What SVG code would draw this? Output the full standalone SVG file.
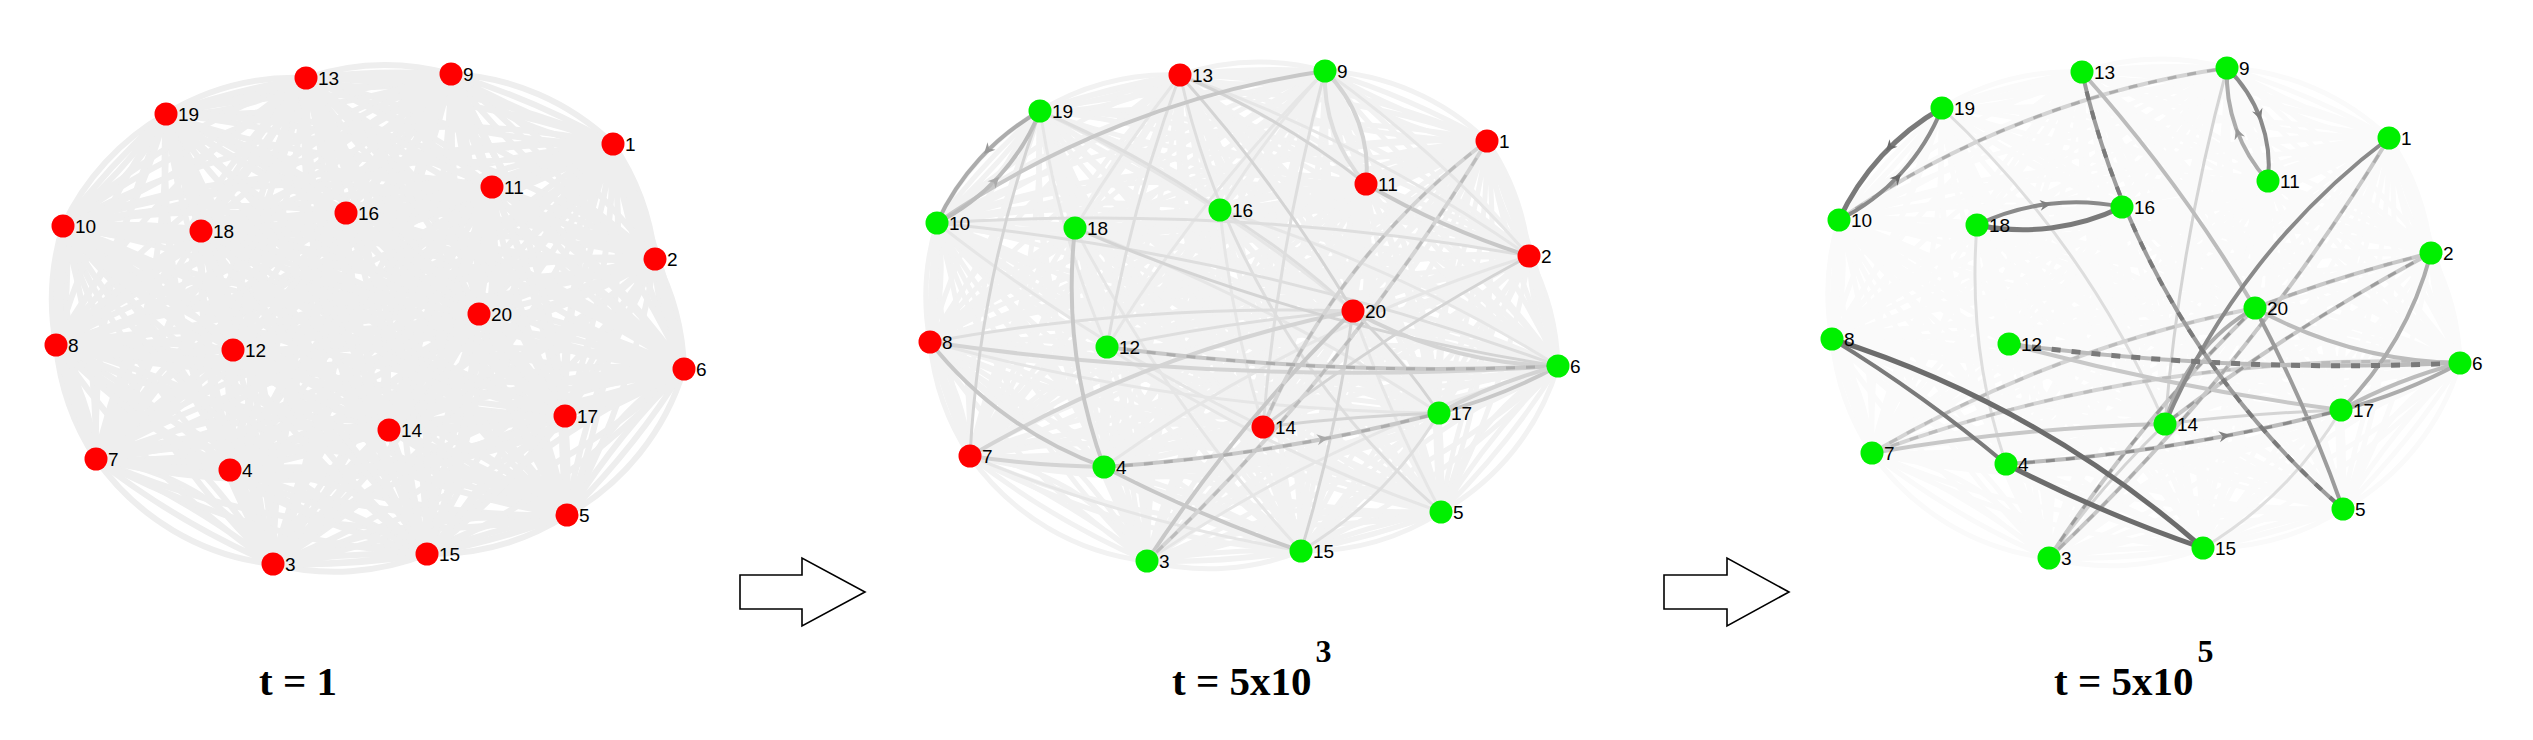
<svg xmlns="http://www.w3.org/2000/svg" xmlns:xlink="http://www.w3.org/1999/xlink" width="2533" height="740" viewBox="0 0 2533 740">
<style>
.mesh1{fill:none;stroke:#eeeeee;stroke-width:6;stroke-linejoin:round}
.mesh2{fill:none;stroke:#f2f2f2;stroke-width:5;stroke-linejoin:round}
.mesh3{fill:none;stroke:#fafafa;stroke-width:5;stroke-linejoin:round}
.e{fill:none;stroke-width:4;stroke-linecap:butt}
.t{stroke-width:3}
.k{stroke-width:5}
.g6{stroke:#6c6c6c}.g7{stroke:#7a7a7a}.g8{stroke:#8a8a8a}.g9{stroke:#9c9c9c}.ga{stroke:#acacac}.gb{stroke:#bcbcbc}.gc{stroke:#c8c8c8}.gd{stroke:#d4d4d4}.ge{stroke:#dedede}.gf{stroke:#e6e6e6}
.dsh{stroke-dasharray:9 11}
.f6{fill:#6a6a6a}.f8{fill:#808080}.f9{fill:#999999}.fa{fill:#aaaaaa}
.node circle{stroke:none}
.red circle{fill:#ff0000}
.grn circle{fill:#00f000}
.node text{font-family:"Liberation Sans",Arial,sans-serif;font-size:19px;fill:#000}
.title{font-family:"Liberation Serif","Times New Roman",serif;font-weight:bold;font-size:41px;fill:#000}
.blk{fill:#ffffff;stroke:#000;stroke-width:1.6}
</style>
<defs>
<path id="ah" d="M0 0L-11 -5.5L-7.5 0L-11 5.5Z"/>
<g id="mesh">
<path d="M306 78A250 250 0 0 1 451 74A250 250 0 0 1 306 78M451 74A250 250 0 0 1 613 144A250 250 0 0 1 451 74M613 144A250 250 0 0 1 655 259A250 250 0 0 1 613 144M655 259A250 250 0 0 1 684 369A250 250 0 0 1 655 259M684 369A250 250 0 0 1 567 515A250 250 0 0 1 684 369M567 515A250 250 0 0 1 427 554A250 250 0 0 1 567 515M427 554A250 250 0 0 1 273 564A250 250 0 0 1 427 554M273 564A250 250 0 0 1 96 459A250 250 0 0 1 273 564M96 459A250 250 0 0 1 56 345A250 250 0 0 1 96 459M56 345A250 250 0 0 1 63 226A250 250 0 0 1 56 345M63 226A250 250 0 0 1 166 114A250 250 0 0 1 63 226M166 114A250 250 0 0 1 306 78A250 250 0 0 1 166 114"/>
<path d="M613 144A800 800 0 0 1 655 259A800 800 0 0 1 613 144A800 800 0 0 1 273 564A800 800 0 0 1 613 144A800 800 0 0 1 230 470A800 800 0 0 1 613 144A800 800 0 0 1 567 515A800 800 0 0 1 613 144A800 800 0 0 1 684 369A800 800 0 0 1 613 144A800 800 0 0 1 96 459A800 800 0 0 1 613 144A800 800 0 0 1 56 345A800 800 0 0 1 613 144A800 800 0 0 1 451 74A800 800 0 0 1 613 144A800 800 0 0 1 63 226A800 800 0 0 1 613 144A800 800 0 0 1 492 187A800 800 0 0 1 613 144A800 800 0 0 1 233 350A800 800 0 0 1 613 144A800 800 0 0 1 306 78A800 800 0 0 1 613 144A800 800 0 0 1 389 430A800 800 0 0 1 613 144A800 800 0 0 1 427 554A800 800 0 0 1 613 144A800 800 0 0 1 346 213A800 800 0 0 1 613 144A800 800 0 0 1 565 416A800 800 0 0 1 613 144A800 800 0 0 1 201 231A800 800 0 0 1 613 144A800 800 0 0 1 166 114A800 800 0 0 1 613 144A800 800 0 0 1 479 314A800 800 0 0 1 613 144"/>
<path d="M655 259A800 800 0 0 1 273 564A800 800 0 0 1 655 259A800 800 0 0 1 230 470A800 800 0 0 1 655 259A800 800 0 0 1 567 515A800 800 0 0 1 655 259A800 800 0 0 1 684 369A800 800 0 0 1 655 259A800 800 0 0 1 96 459A800 800 0 0 1 655 259A800 800 0 0 1 56 345A800 800 0 0 1 655 259A800 800 0 0 1 451 74A800 800 0 0 1 655 259A800 800 0 0 1 63 226A800 800 0 0 1 655 259A800 800 0 0 1 492 187A800 800 0 0 1 655 259A800 800 0 0 1 233 350A800 800 0 0 1 655 259A800 800 0 0 1 306 78A800 800 0 0 1 655 259A800 800 0 0 1 389 430A800 800 0 0 1 655 259A800 800 0 0 1 427 554A800 800 0 0 1 655 259A800 800 0 0 1 346 213A800 800 0 0 1 655 259A800 800 0 0 1 565 416A800 800 0 0 1 655 259A800 800 0 0 1 201 231A800 800 0 0 1 655 259A800 800 0 0 1 166 114A800 800 0 0 1 655 259A800 800 0 0 1 479 314A800 800 0 0 1 655 259"/>
<path d="M273 564A800 800 0 0 1 230 470A800 800 0 0 1 273 564A800 800 0 0 1 567 515A800 800 0 0 1 273 564A800 800 0 0 1 684 369A800 800 0 0 1 273 564A800 800 0 0 1 96 459A800 800 0 0 1 273 564A800 800 0 0 1 56 345A800 800 0 0 1 273 564A800 800 0 0 1 451 74A800 800 0 0 1 273 564A800 800 0 0 1 63 226A800 800 0 0 1 273 564A800 800 0 0 1 492 187A800 800 0 0 1 273 564A800 800 0 0 1 233 350A800 800 0 0 1 273 564A800 800 0 0 1 306 78A800 800 0 0 1 273 564A800 800 0 0 1 389 430A800 800 0 0 1 273 564A800 800 0 0 1 427 554A800 800 0 0 1 273 564A800 800 0 0 1 346 213A800 800 0 0 1 273 564A800 800 0 0 1 565 416A800 800 0 0 1 273 564A800 800 0 0 1 201 231A800 800 0 0 1 273 564A800 800 0 0 1 166 114A800 800 0 0 1 273 564A800 800 0 0 1 479 314A800 800 0 0 1 273 564"/>
<path d="M230 470A800 800 0 0 1 567 515A800 800 0 0 1 230 470A800 800 0 0 1 684 369A800 800 0 0 1 230 470A800 800 0 0 1 96 459A800 800 0 0 1 230 470A800 800 0 0 1 56 345A800 800 0 0 1 230 470A800 800 0 0 1 451 74A800 800 0 0 1 230 470A800 800 0 0 1 63 226A800 800 0 0 1 230 470A800 800 0 0 1 492 187A800 800 0 0 1 230 470A800 800 0 0 1 233 350A800 800 0 0 1 230 470A800 800 0 0 1 306 78A800 800 0 0 1 230 470A800 800 0 0 1 389 430A800 800 0 0 1 230 470A800 800 0 0 1 427 554A800 800 0 0 1 230 470A800 800 0 0 1 346 213A800 800 0 0 1 230 470A800 800 0 0 1 565 416A800 800 0 0 1 230 470A800 800 0 0 1 201 231A800 800 0 0 1 230 470A800 800 0 0 1 166 114A800 800 0 0 1 230 470A800 800 0 0 1 479 314A800 800 0 0 1 230 470"/>
<path d="M567 515A800 800 0 0 1 684 369A800 800 0 0 1 567 515A800 800 0 0 1 96 459A800 800 0 0 1 567 515A800 800 0 0 1 56 345A800 800 0 0 1 567 515A800 800 0 0 1 451 74A800 800 0 0 1 567 515A800 800 0 0 1 63 226A800 800 0 0 1 567 515A800 800 0 0 1 492 187A800 800 0 0 1 567 515A800 800 0 0 1 233 350A800 800 0 0 1 567 515A800 800 0 0 1 306 78A800 800 0 0 1 567 515A800 800 0 0 1 389 430A800 800 0 0 1 567 515A800 800 0 0 1 427 554A800 800 0 0 1 567 515A800 800 0 0 1 346 213A800 800 0 0 1 567 515A800 800 0 0 1 565 416A800 800 0 0 1 567 515A800 800 0 0 1 201 231A800 800 0 0 1 567 515A800 800 0 0 1 166 114A800 800 0 0 1 567 515A800 800 0 0 1 479 314A800 800 0 0 1 567 515"/>
<path d="M684 369A800 800 0 0 1 96 459A800 800 0 0 1 684 369A800 800 0 0 1 56 345A800 800 0 0 1 684 369A800 800 0 0 1 451 74A800 800 0 0 1 684 369A800 800 0 0 1 63 226A800 800 0 0 1 684 369A800 800 0 0 1 492 187A800 800 0 0 1 684 369A800 800 0 0 1 233 350A800 800 0 0 1 684 369A800 800 0 0 1 306 78A800 800 0 0 1 684 369A800 800 0 0 1 389 430A800 800 0 0 1 684 369A800 800 0 0 1 427 554A800 800 0 0 1 684 369A800 800 0 0 1 346 213A800 800 0 0 1 684 369A800 800 0 0 1 565 416A800 800 0 0 1 684 369A800 800 0 0 1 201 231A800 800 0 0 1 684 369A800 800 0 0 1 166 114A800 800 0 0 1 684 369A800 800 0 0 1 479 314A800 800 0 0 1 684 369"/>
<path d="M96 459A800 800 0 0 1 56 345A800 800 0 0 1 96 459A800 800 0 0 1 451 74A800 800 0 0 1 96 459A800 800 0 0 1 63 226A800 800 0 0 1 96 459A800 800 0 0 1 492 187A800 800 0 0 1 96 459A800 800 0 0 1 233 350A800 800 0 0 1 96 459A800 800 0 0 1 306 78A800 800 0 0 1 96 459A800 800 0 0 1 389 430A800 800 0 0 1 96 459A800 800 0 0 1 427 554A800 800 0 0 1 96 459A800 800 0 0 1 346 213A800 800 0 0 1 96 459A800 800 0 0 1 565 416A800 800 0 0 1 96 459A800 800 0 0 1 201 231A800 800 0 0 1 96 459A800 800 0 0 1 166 114A800 800 0 0 1 96 459A800 800 0 0 1 479 314A800 800 0 0 1 96 459"/>
<path d="M56 345A800 800 0 0 1 451 74A800 800 0 0 1 56 345A800 800 0 0 1 63 226A800 800 0 0 1 56 345A800 800 0 0 1 492 187A800 800 0 0 1 56 345A800 800 0 0 1 233 350A800 800 0 0 1 56 345A800 800 0 0 1 306 78A800 800 0 0 1 56 345A800 800 0 0 1 389 430A800 800 0 0 1 56 345A800 800 0 0 1 427 554A800 800 0 0 1 56 345A800 800 0 0 1 346 213A800 800 0 0 1 56 345A800 800 0 0 1 565 416A800 800 0 0 1 56 345A800 800 0 0 1 201 231A800 800 0 0 1 56 345A800 800 0 0 1 166 114A800 800 0 0 1 56 345A800 800 0 0 1 479 314A800 800 0 0 1 56 345"/>
<path d="M451 74A800 800 0 0 1 63 226A800 800 0 0 1 451 74A800 800 0 0 1 492 187A800 800 0 0 1 451 74A800 800 0 0 1 233 350A800 800 0 0 1 451 74A800 800 0 0 1 306 78A800 800 0 0 1 451 74A800 800 0 0 1 389 430A800 800 0 0 1 451 74A800 800 0 0 1 427 554A800 800 0 0 1 451 74A800 800 0 0 1 346 213A800 800 0 0 1 451 74A800 800 0 0 1 565 416A800 800 0 0 1 451 74A800 800 0 0 1 201 231A800 800 0 0 1 451 74A800 800 0 0 1 166 114A800 800 0 0 1 451 74A800 800 0 0 1 479 314A800 800 0 0 1 451 74"/>
<path d="M63 226A800 800 0 0 1 492 187A800 800 0 0 1 63 226A800 800 0 0 1 233 350A800 800 0 0 1 63 226A800 800 0 0 1 306 78A800 800 0 0 1 63 226A800 800 0 0 1 389 430A800 800 0 0 1 63 226A800 800 0 0 1 427 554A800 800 0 0 1 63 226A800 800 0 0 1 346 213A800 800 0 0 1 63 226A800 800 0 0 1 565 416A800 800 0 0 1 63 226A800 800 0 0 1 201 231A800 800 0 0 1 63 226A800 800 0 0 1 166 114A800 800 0 0 1 63 226A800 800 0 0 1 479 314A800 800 0 0 1 63 226"/>
<path d="M492 187A800 800 0 0 1 233 350A800 800 0 0 1 492 187A800 800 0 0 1 306 78A800 800 0 0 1 492 187A800 800 0 0 1 389 430A800 800 0 0 1 492 187A800 800 0 0 1 427 554A800 800 0 0 1 492 187A800 800 0 0 1 346 213A800 800 0 0 1 492 187A800 800 0 0 1 565 416A800 800 0 0 1 492 187A800 800 0 0 1 201 231A800 800 0 0 1 492 187A800 800 0 0 1 166 114A800 800 0 0 1 492 187A800 800 0 0 1 479 314A800 800 0 0 1 492 187"/>
<path d="M233 350A800 800 0 0 1 306 78A800 800 0 0 1 233 350A800 800 0 0 1 389 430A800 800 0 0 1 233 350A800 800 0 0 1 427 554A800 800 0 0 1 233 350A800 800 0 0 1 346 213A800 800 0 0 1 233 350A800 800 0 0 1 565 416A800 800 0 0 1 233 350A800 800 0 0 1 201 231A800 800 0 0 1 233 350A800 800 0 0 1 166 114A800 800 0 0 1 233 350A800 800 0 0 1 479 314A800 800 0 0 1 233 350"/>
<path d="M306 78A800 800 0 0 1 389 430A800 800 0 0 1 306 78A800 800 0 0 1 427 554A800 800 0 0 1 306 78A800 800 0 0 1 346 213A800 800 0 0 1 306 78A800 800 0 0 1 565 416A800 800 0 0 1 306 78A800 800 0 0 1 201 231A800 800 0 0 1 306 78A800 800 0 0 1 166 114A800 800 0 0 1 306 78A800 800 0 0 1 479 314A800 800 0 0 1 306 78"/>
<path d="M389 430A800 800 0 0 1 427 554A800 800 0 0 1 389 430A800 800 0 0 1 346 213A800 800 0 0 1 389 430A800 800 0 0 1 565 416A800 800 0 0 1 389 430A800 800 0 0 1 201 231A800 800 0 0 1 389 430A800 800 0 0 1 166 114A800 800 0 0 1 389 430A800 800 0 0 1 479 314A800 800 0 0 1 389 430"/>
<path d="M427 554A800 800 0 0 1 346 213A800 800 0 0 1 427 554A800 800 0 0 1 565 416A800 800 0 0 1 427 554A800 800 0 0 1 201 231A800 800 0 0 1 427 554A800 800 0 0 1 166 114A800 800 0 0 1 427 554A800 800 0 0 1 479 314A800 800 0 0 1 427 554"/>
<path d="M346 213A800 800 0 0 1 565 416A800 800 0 0 1 346 213A800 800 0 0 1 201 231A800 800 0 0 1 346 213A800 800 0 0 1 166 114A800 800 0 0 1 346 213A800 800 0 0 1 479 314A800 800 0 0 1 346 213"/>
<path d="M565 416A800 800 0 0 1 201 231A800 800 0 0 1 565 416A800 800 0 0 1 166 114A800 800 0 0 1 565 416A800 800 0 0 1 479 314A800 800 0 0 1 565 416"/>
<path d="M201 231A800 800 0 0 1 166 114A800 800 0 0 1 201 231A800 800 0 0 1 479 314A800 800 0 0 1 201 231"/>
<path d="M166 114A800 800 0 0 1 479 314A800 800 0 0 1 166 114"/>
</g>
</defs>
<rect width="2533" height="740" fill="#ffffff"/>

<!-- Panel 1: t = 1 -->
<g id="panel1">
<g id="p1-connectors"><use xlink:href="#mesh" href="#mesh" class="mesh1"/></g>
<g id="p1-nodes">
<g id="p1-n1" class="node red"><circle cx="613" cy="144" r="11.5"/><text x="625" y="151">1</text></g>
<g id="p1-n2" class="node red"><circle cx="655" cy="259" r="11.5"/><text x="667" y="266">2</text></g>
<g id="p1-n3" class="node red"><circle cx="273" cy="564" r="11.5"/><text x="285" y="571">3</text></g>
<g id="p1-n4" class="node red"><circle cx="230" cy="470" r="11.5"/><text x="242" y="477">4</text></g>
<g id="p1-n5" class="node red"><circle cx="567" cy="515" r="11.5"/><text x="579" y="522">5</text></g>
<g id="p1-n6" class="node red"><circle cx="684" cy="369" r="11.5"/><text x="696" y="376">6</text></g>
<g id="p1-n7" class="node red"><circle cx="96" cy="459" r="11.5"/><text x="108" y="466">7</text></g>
<g id="p1-n8" class="node red"><circle cx="56" cy="345" r="11.5"/><text x="68" y="352">8</text></g>
<g id="p1-n9" class="node red"><circle cx="451" cy="74" r="11.5"/><text x="463" y="81">9</text></g>
<g id="p1-n10" class="node red"><circle cx="63" cy="226" r="11.5"/><text x="75" y="233">10</text></g>
<g id="p1-n11" class="node red"><circle cx="492" cy="187" r="11.5"/><text x="504" y="194">11</text></g>
<g id="p1-n12" class="node red"><circle cx="233" cy="350" r="11.5"/><text x="245" y="357">12</text></g>
<g id="p1-n13" class="node red"><circle cx="306" cy="78" r="11.5"/><text x="318" y="85">13</text></g>
<g id="p1-n14" class="node red"><circle cx="389" cy="430" r="11.5"/><text x="401" y="437">14</text></g>
<g id="p1-n15" class="node red"><circle cx="427" cy="554" r="11.5"/><text x="439" y="561">15</text></g>
<g id="p1-n16" class="node red"><circle cx="346" cy="213" r="11.5"/><text x="358" y="220">16</text></g>
<g id="p1-n17" class="node red"><circle cx="565" cy="416" r="11.5"/><text x="577" y="423">17</text></g>
<g id="p1-n18" class="node red"><circle cx="201" cy="231" r="11.5"/><text x="213" y="238">18</text></g>
<g id="p1-n19" class="node red"><circle cx="166" cy="114" r="11.5"/><text x="178" y="121">19</text></g>
<g id="p1-n20" class="node red"><circle cx="479" cy="314" r="11.5"/><text x="491" y="321">20</text></g>
</g>
</g>

<!-- Panel 2: t = 5x10^3 -->
<g id="panel2" transform="translate(874,-3)">
<g id="p2-connectors">
<use xlink:href="#mesh" href="#mesh" class="mesh2"/>
<path class="e t gf" d="M166 114A1000 1000 0 0 0 233 350"/>
<path class="e t gf" d="M166 114A1500 1500 0 0 1 479 314"/>
<path class="e t gf" d="M306 78A1500 1500 0 0 0 201 231"/>
<path class="e t gf" d="M306 78A1500 1500 0 0 1 655 259"/>
<path class="e t gf" d="M451 74A900 900 0 0 0 346 213"/>
<path class="e t gf" d="M451 74A1200 1200 0 0 1 655 259"/>
<path class="e t gf" d="M451 74A1500 1500 0 0 0 233 350"/>
<path class="e t gf" d="M201 231A1500 1500 0 0 0 427 554"/>
<path class="e t gf" d="M201 231A1800 1800 0 0 1 565 416"/>
<path class="e t gf" d="M346 213A1200 1200 0 0 0 389 430"/>
<path class="e t gf" d="M346 213A1500 1500 0 0 1 684 369"/>
<path class="e t gf" d="M233 350A1500 1500 0 0 0 567 515"/>
<path class="e t gf" d="M63 226A1800 1800 0 0 0 389 430"/>
<path class="e t gf" d="M56 345A2000 2000 0 0 0 565 416"/>
<path class="e t gf" d="M96 459A1500 1500 0 0 0 427 554"/>
<path class="e t gf" d="M273 564A1500 1500 0 0 1 684 369"/>
<path class="e t gf" d="M230 470A1500 1500 0 0 1 655 259"/>
<path class="e t gf" d="M567 515A1500 1500 0 0 1 479 314"/>
<path class="e t ge" d="M166 114A1000 1000 0 0 1 346 213"/>
<path class="e t ge" d="M306 78A1500 1500 0 0 0 233 350"/>
<path class="e t ge" d="M63 226A2500 2500 0 0 1 684 369"/>
<path class="e t ge" d="M63 226A2500 2500 0 0 1 655 259"/>
<path class="e t ge" d="M56 345A2000 2000 0 0 1 479 314"/>
<path class="e t ge" d="M233 350A2000 2000 0 0 1 479 314"/>
<path class="e t ge" d="M451 74A2000 2000 0 0 0 389 430"/>
<path class="e t ge" d="M427 554A400 400 0 0 0 565 416"/>
<path class="e t ge" d="M346 213A800 800 0 0 1 479 314"/>
<path class="e t ge" d="M306 78A815 815 0 0 0 567 515"/>
<path class="e t gd" d="M306 78A1500 1500 0 0 1 479 314"/>
<path class="e t gd" d="M306 78A800 800 0 0 1 492 187"/>
<path class="e t gd" d="M166 114A1200 1200 0 0 0 96 459"/>
<path class="e t gd" d="M201 231A2000 2000 0 0 0 684 369"/>
<path class="e t gd" d="M479 314A1500 1500 0 0 1 427 554"/>
<path class="e t gd" d="M479 314A600 600 0 0 1 565 416"/>
<path class="e t gd" d="M389 430A2000 2000 0 0 1 565 416"/>
<path class="e t gd" d="M655 259A2000 2000 0 0 0 389 430"/>
<path class="e gd" d="M96 459A1000 1000 0 0 0 230 470"/>
<path class="e gd" d="M96 459A1241 1241 0 0 1 479 314"/>
<path class="e gd" d="M56 345A3000 3000 0 0 0 684 369"/>
<path class="e gd" d="M451 74A136 136 0 0 1 492 187"/>
<path class="e ge" d="M492 187A156 156 0 0 1 451 74"/>
<path class="e gd" d="M479 314A439 439 0 0 0 684 369"/>
<path class="e gc" d="M492 187A800 800 0 0 0 655 259"/>
<path class="e gc" d="M63 226A916 916 0 0 1 451 74"/>
<path class="e gc" d="M201 231A525 525 0 0 0 230 470"/>
<path class="e gc" d="M56 345A389 389 0 0 0 230 470"/>
<path class="e gc" d="M230 470A1433 1433 0 0 0 427 554"/>
<path class="e gc" d="M273 564A1500 1500 0 0 1 479 314"/>
<path class="e gd" d="M613 144A2000 2000 0 0 1 273 564"/>
<path class="e t gb dsh" d="M613 144A2000 2000 0 0 1 273 564"/>
<path class="e gd" d="M613 144A700 700 0 0 0 389 430"/>
<path class="e t gb dsh" d="M613 144A700 700 0 0 0 389 430"/>
<path class="e gc" d="M233 350A2500 2500 0 0 0 684 369"/>
<path class="e t ga dsh" d="M233 350A2500 2500 0 0 0 684 369"/>
<path class="e gc" d="M230 470A1800 1800 0 0 0 565 416"/>
<path class="e t ga dsh" d="M230 470A1800 1800 0 0 0 565 416"/>
<path class="e gc" d="M684 369A514 514 0 0 1 565 416"/>
<path class="e gd" d="M565 416A514 514 0 0 1 684 369"/>
<path class="e ga" d="M166 114A247 247 0 0 0 63 226"/>
<path class="e gb" d="M63 226A213 213 0 0 0 166 114"/>
<use href="#ah" xlink:href="#ah" class="f9" transform="translate(110 157) rotate(133)"/>
<use href="#ah" xlink:href="#ah" class="fa" transform="translate(125 180) rotate(-47)"/>
<use href="#ah" xlink:href="#ah" class="fa" transform="translate(454 441) rotate(-9)"/>
</g>
<g id="p2-nodes">
<g id="p2-n1" class="node red"><circle cx="613" cy="144" r="11.5"/><text x="625" y="151">1</text></g>
<g id="p2-n2" class="node red"><circle cx="655" cy="259" r="11.5"/><text x="667" y="266">2</text></g>
<g id="p2-n3" class="node grn"><circle cx="273" cy="564" r="11.5"/><text x="285" y="571">3</text></g>
<g id="p2-n4" class="node grn"><circle cx="230" cy="470" r="11.5"/><text x="242" y="477">4</text></g>
<g id="p2-n5" class="node grn"><circle cx="567" cy="515" r="11.5"/><text x="579" y="522">5</text></g>
<g id="p2-n6" class="node grn"><circle cx="684" cy="369" r="11.5"/><text x="696" y="376">6</text></g>
<g id="p2-n7" class="node red"><circle cx="96" cy="459" r="11.5"/><text x="108" y="466">7</text></g>
<g id="p2-n8" class="node red"><circle cx="56" cy="345" r="11.5"/><text x="68" y="352">8</text></g>
<g id="p2-n9" class="node grn"><circle cx="451" cy="74" r="11.5"/><text x="463" y="81">9</text></g>
<g id="p2-n10" class="node grn"><circle cx="63" cy="226" r="11.5"/><text x="75" y="233">10</text></g>
<g id="p2-n11" class="node red"><circle cx="492" cy="187" r="11.5"/><text x="504" y="194">11</text></g>
<g id="p2-n12" class="node grn"><circle cx="233" cy="350" r="11.5"/><text x="245" y="357">12</text></g>
<g id="p2-n13" class="node red"><circle cx="306" cy="78" r="11.5"/><text x="318" y="85">13</text></g>
<g id="p2-n14" class="node red"><circle cx="389" cy="430" r="11.5"/><text x="401" y="437">14</text></g>
<g id="p2-n15" class="node grn"><circle cx="427" cy="554" r="11.5"/><text x="439" y="561">15</text></g>
<g id="p2-n16" class="node grn"><circle cx="346" cy="213" r="11.5"/><text x="358" y="220">16</text></g>
<g id="p2-n17" class="node grn"><circle cx="565" cy="416" r="11.5"/><text x="577" y="423">17</text></g>
<g id="p2-n18" class="node grn"><circle cx="201" cy="231" r="11.5"/><text x="213" y="238">18</text></g>
<g id="p2-n19" class="node grn"><circle cx="166" cy="114" r="11.5"/><text x="178" y="121">19</text></g>
<g id="p2-n20" class="node red"><circle cx="479" cy="314" r="11.5"/><text x="491" y="321">20</text></g>
</g>
</g>

<!-- Panel 3: t = 5x10^5 -->
<g id="panel3" transform="translate(1776,-6)">
<g id="p3-connectors">
<use xlink:href="#mesh" href="#mesh" class="mesh3"/>
<path class="e t ge" d="M427 554A400 400 0 0 0 565 416"/>
<path class="e t ge" d="M201 231A600 600 0 0 0 230 470"/>
<path class="e t ge" d="M166 114A945 945 0 0 1 389 430"/>
<path class="e t gd" d="M451 74A2000 2000 0 0 0 389 430"/>
<path class="e t gd" d="M273 564A1000 1000 0 0 1 389 430"/>
<path class="e t gd" d="M389 430A2000 2000 0 0 1 565 416"/>
<path class="e gc" d="M96 459A2000 2000 0 0 1 389 430"/>
<path class="e gd" d="M96 459A1500 1500 0 0 1 684 369"/>
<path class="e t gb dsh" d="M96 459A1500 1500 0 0 1 684 369"/>
<path class="e gd" d="M96 459A1241 1241 0 0 1 479 314"/>
<path class="e t gb dsh" d="M96 459A1241 1241 0 0 1 479 314"/>
<path class="e gc" d="M233 350A2500 2500 0 0 0 565 416"/>
<path class="e gd" d="M63 226A916 916 0 0 1 451 74"/>
<path class="e t ga dsh" d="M63 226A916 916 0 0 1 451 74"/>
<path class="e gc" d="M655 259A1500 1500 0 0 0 479 314"/>
<path class="e t ga dsh" d="M655 259A1500 1500 0 0 0 479 314"/>
<path class="e gc" d="M655 259A2000 2000 0 0 0 389 430"/>
<path class="e t g9 dsh" d="M655 259A2000 2000 0 0 0 389 430"/>
<path class="e gc" d="M273 564A1500 1500 0 0 1 479 314"/>
<path class="e t g9 dsh" d="M273 564A1500 1500 0 0 1 479 314"/>
<path class="e gc" d="M613 144A2000 2000 0 0 1 273 564"/>
<path class="e t ga dsh" d="M613 144A2000 2000 0 0 1 273 564"/>
<path class="e gb" d="M306 78A1500 1500 0 0 1 479 314"/>
<path class="e gb" d="M479 314A439 439 0 0 0 684 369"/>
<path class="e gb" d="M565 416A514 514 0 0 1 684 369"/>
<path class="e ga" d="M684 369A514 514 0 0 1 565 416"/>
<path class="e g9" d="M479 314A1500 1500 0 0 1 567 515"/>
<path class="e ga" d="M655 259A347 347 0 0 1 565 416"/>
<path class="e ga" d="M389 430A187 187 0 0 1 479 314"/>
<path class="e gb" d="M230 470A1800 1800 0 0 0 565 416"/>
<path class="e t g8 dsh" d="M230 470A1800 1800 0 0 0 565 416"/>
<path class="e g8" d="M613 144A700 700 0 0 0 389 430"/>
<path class="e gb" d="M684 369A2552 2552 0 0 1 233 350"/>
<path class="e k g7 dsh" d="M684 369A2552 2552 0 0 1 233 350"/>
<path class="e g9" d="M306 78A815 815 0 0 0 567 515"/>
<path class="e g7 dsh" d="M306 78A815 815 0 0 0 567 515"/>
<path class="e ga" d="M492 187A156 156 0 0 1 451 74"/>
<path class="e g8" d="M451 74A136 136 0 0 1 492 187"/>
<path class="e g8" d="M201 231A228 228 0 0 1 346 213"/>
<path class="e k g7" d="M346 213A228 228 0 0 1 201 231"/>
<path class="e k g6" d="M56 345A1041 1041 0 0 1 427 554"/>
<path class="e g7" d="M56 345A1433 1433 0 0 1 230 470"/>
<path class="e k g6" d="M230 470A1433 1433 0 0 0 427 554"/>
<path class="e g8" d="M63 226A213 213 0 0 0 166 114"/>
<path class="e k g7" d="M166 114A247 247 0 0 0 63 226"/>
<use href="#ah" xlink:href="#ah" class="f6" transform="translate(110 157) rotate(133)"/>
<use href="#ah" xlink:href="#ah" class="f6" transform="translate(125 180) rotate(-47)"/>
<use href="#ah" xlink:href="#ah" class="f8" transform="translate(485 126) rotate(70)"/>
<use href="#ah" xlink:href="#ah" class="f9" transform="translate(460 134) rotate(-110)"/>
<use href="#ah" xlink:href="#ah" class="f8" transform="translate(454 441) rotate(-9)"/>
<use href="#ah" xlink:href="#ah" class="f8" transform="translate(275 210) rotate(-7)"/>
</g>
<g id="p3-nodes">
<g id="p3-n1" class="node grn"><circle cx="613" cy="144" r="11.5"/><text x="625" y="151">1</text></g>
<g id="p3-n2" class="node grn"><circle cx="655" cy="259" r="11.5"/><text x="667" y="266">2</text></g>
<g id="p3-n3" class="node grn"><circle cx="273" cy="564" r="11.5"/><text x="285" y="571">3</text></g>
<g id="p3-n4" class="node grn"><circle cx="230" cy="470" r="11.5"/><text x="242" y="477">4</text></g>
<g id="p3-n5" class="node grn"><circle cx="567" cy="515" r="11.5"/><text x="579" y="522">5</text></g>
<g id="p3-n6" class="node grn"><circle cx="684" cy="369" r="11.5"/><text x="696" y="376">6</text></g>
<g id="p3-n7" class="node grn"><circle cx="96" cy="459" r="11.5"/><text x="108" y="466">7</text></g>
<g id="p3-n8" class="node grn"><circle cx="56" cy="345" r="11.5"/><text x="68" y="352">8</text></g>
<g id="p3-n9" class="node grn"><circle cx="451" cy="74" r="11.5"/><text x="463" y="81">9</text></g>
<g id="p3-n10" class="node grn"><circle cx="63" cy="226" r="11.5"/><text x="75" y="233">10</text></g>
<g id="p3-n11" class="node grn"><circle cx="492" cy="187" r="11.5"/><text x="504" y="194">11</text></g>
<g id="p3-n12" class="node grn"><circle cx="233" cy="350" r="11.5"/><text x="245" y="357">12</text></g>
<g id="p3-n13" class="node grn"><circle cx="306" cy="78" r="11.5"/><text x="318" y="85">13</text></g>
<g id="p3-n14" class="node grn"><circle cx="389" cy="430" r="11.5"/><text x="401" y="437">14</text></g>
<g id="p3-n15" class="node grn"><circle cx="427" cy="554" r="11.5"/><text x="439" y="561">15</text></g>
<g id="p3-n16" class="node grn"><circle cx="346" cy="213" r="11.5"/><text x="358" y="220">16</text></g>
<g id="p3-n17" class="node grn"><circle cx="565" cy="416" r="11.5"/><text x="577" y="423">17</text></g>
<g id="p3-n18" class="node grn"><circle cx="201" cy="231" r="11.5"/><text x="213" y="238">18</text></g>
<g id="p3-n19" class="node grn"><circle cx="166" cy="114" r="11.5"/><text x="178" y="121">19</text></g>
<g id="p3-n20" class="node grn"><circle cx="479" cy="314" r="11.5"/><text x="491" y="321">20</text></g>
</g>
</g>

<!-- Block arrows between panels -->
<g id="step-arrows">
<polygon id="step1" class="blk" points="740,575 802,575 802,558 865,592 802,626 802,609 740,609"/>
<polygon id="step2" class="blk" points="1664,575 1727,575 1727,558 1789,592 1727,626 1727,609 1664,609"/>
</g>

<!-- Time captions -->
<g id="captions">
<text class="title" x="259" y="695">t = 1</text>
<text class="title" x="1172" y="695">t = 5x10<tspan font-size="32" dx="4" dy="-33">3</tspan></text>
<text class="title" x="2054" y="695">t = 5x10<tspan font-size="32" dx="4" dy="-33">5</tspan></text>
</g>
</svg>
